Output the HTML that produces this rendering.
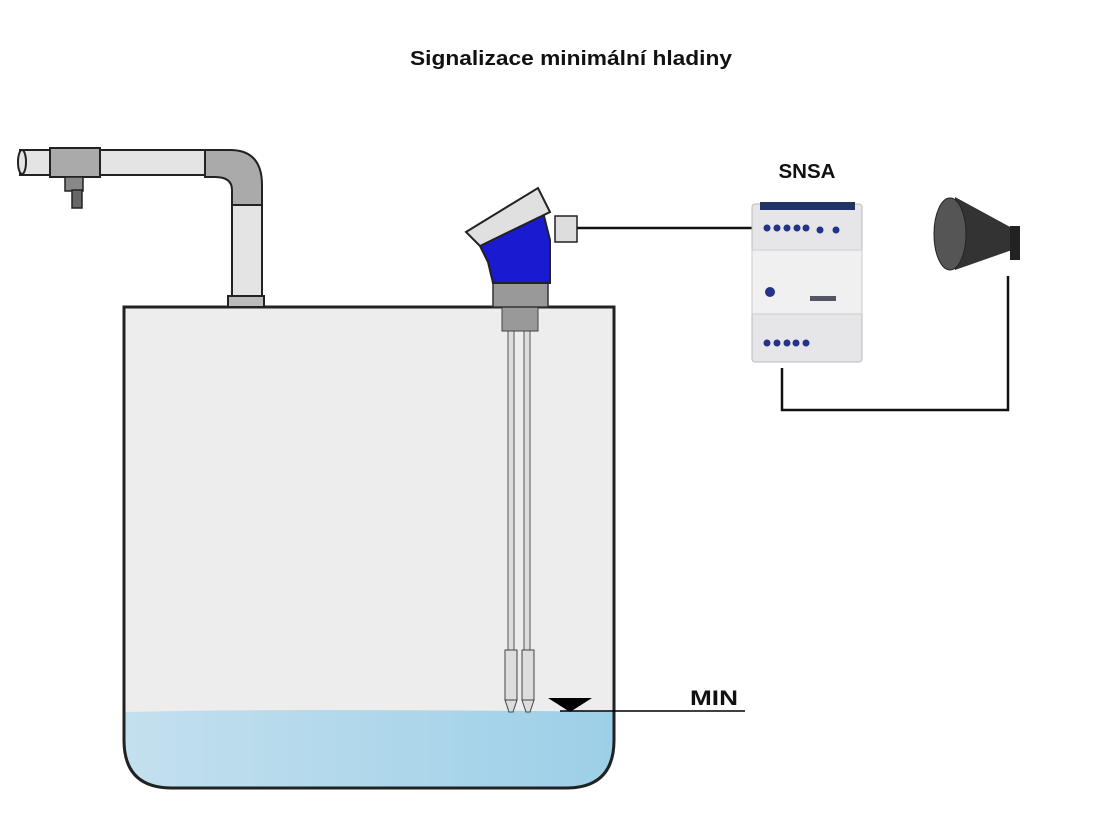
<!DOCTYPE html>
<html><head><meta charset="utf-8"><style>
body{margin:0;background:#fff}
svg{display:block}
text{font-family:"Liberation Sans",sans-serif;font-weight:bold}
</style></head><body>
<svg width="1100" height="825" viewBox="0 0 1100 825" xmlns="http://www.w3.org/2000/svg">
<defs>
<linearGradient id="w" x1="0" x2="1"><stop offset="0" stop-color="#c4e0ee"/><stop offset="1" stop-color="#9ccfe8"/></linearGradient>
<clipPath id="tc"><path d="M124,307 H614 V740 Q614,788 566,788 H172 Q124,788 124,740 Z"/></clipPath>
</defs>
<text x="571" y="65" font-size="20" text-anchor="middle" fill="#111" textLength="322" lengthAdjust="spacingAndGlyphs">Signalizace minimální hladiny</text>
<!-- tank -->
<path d="M124,307 H614 V740 Q614,788 566,788 H172 Q124,788 124,740 Z" fill="#ededed"/>
<g clip-path="url(#tc)"><path d="M120,712 Q300,708 620,712 V800 H120 Z" fill="url(#w)"/></g>
<path d="M124,307 H614 V740 Q614,788 566,788 H172 Q124,788 124,740 Z" fill="none" stroke="#222" stroke-width="3"/>
<!-- pipe -->
<rect x="20" y="150" width="190" height="25" fill="#e4e4e4" stroke="#222" stroke-width="2"/>
<ellipse cx="22" cy="162" rx="4" ry="12" fill="#e4e4e4" stroke="#222" stroke-width="2"/>
<rect x="50" y="148" width="50" height="29" fill="#aaa" stroke="#222" stroke-width="2"/>
<rect x="65" y="177" width="18" height="14" fill="#888" stroke="#222" stroke-width="1.5"/>
<rect x="72" y="190" width="10" height="18" fill="#666" stroke="#222" stroke-width="1.5"/>
<path d="M205,150 H230 Q262,150 262,185 V205 H232 V190 Q232,177 215,177 H205 Z" fill="#aaa" stroke="#222" stroke-width="2"/>
<rect x="232" y="205" width="30" height="92" fill="#e4e4e4" stroke="#222" stroke-width="2"/>
<rect x="228" y="296" width="36" height="11" fill="#bbb" stroke="#222" stroke-width="2"/>
<!-- sensor -->
<rect x="508" y="330" width="6" height="320" fill="#ddd" stroke="#555"/>
<rect x="524" y="330" width="6" height="320" fill="#ddd" stroke="#555"/>
<rect x="505" y="650" width="12" height="50" fill="#ddd" stroke="#444"/>
<rect x="522" y="650" width="12" height="50" fill="#ddd" stroke="#444"/>
<path d="M505,700 L517,700 L513,712 L509,712 Z M522,700 L534,700 L530,712 L526,712 Z" fill="#ddd" stroke="#444"/>
<rect x="502" y="307" width="36" height="24" fill="#999" stroke="#444"/>
<rect x="493" y="282" width="55" height="25" fill="#999" stroke="#333" stroke-width="1.5"/>
<path d="M478,242 L543,212 L550,240 V283 H493 L488,262 Z" fill="#1a1ad0" stroke="#222" stroke-width="2"/>
<path d="M466,232 L538,188 L550,212 L480,246 Z" fill="#e0e0e0" stroke="#222" stroke-width="2"/>
<rect x="555" y="216" width="22" height="26" fill="#ddd" stroke="#222" stroke-width="1.5"/>
<line x1="577" y1="228" x2="752" y2="228" stroke="#111" stroke-width="2.5"/>
<!-- SNSA -->
<text x="807" y="178" font-size="20" text-anchor="middle" fill="#111" textLength="57" lengthAdjust="spacingAndGlyphs">SNSA</text>
<rect x="752" y="204" width="110" height="158" rx="3" fill="#e6e6e8" stroke="#bbb"/>
<rect x="760" y="202" width="95" height="8" fill="#223366"/>
<rect x="752" y="250" width="110" height="64" fill="#f0f0f0" stroke="#ccc"/>
<g fill="#223388"><circle cx="767" cy="228" r="3.5"/><circle cx="777" cy="228" r="3.5"/><circle cx="787" cy="228" r="3.5"/><circle cx="797" cy="228" r="3.5"/><circle cx="806" cy="228" r="3.5"/><circle cx="820" cy="230" r="3.5"/><circle cx="836" cy="230" r="3.5"/>
<circle cx="767" cy="343" r="3.5"/><circle cx="777" cy="343" r="3.5"/><circle cx="787" cy="343" r="3.5"/><circle cx="796" cy="343" r="3.5"/><circle cx="806" cy="343" r="3.5"/><circle cx="770" cy="292" r="5"/></g>
<rect x="810" y="296" width="26" height="5" fill="#556"/>
<path d="M782,368 V410 H1008 V276" fill="none" stroke="#111" stroke-width="2.5"/>
<!-- horn -->
<path d="M955,197 L1012,228 V250 L955,270 Z" fill="#333"/>
<ellipse cx="950" cy="234" rx="16" ry="36" fill="#555" stroke="#222"/>
<rect x="1010" y="226" width="10" height="34" fill="#222"/>
<!-- MIN -->
<path d="M548,698 H592 L570,712 Z" fill="#000"/>
<line x1="560" y1="711" x2="745" y2="711" stroke="#000" stroke-width="1.5"/>
<text x="690" y="705" font-size="21" fill="#111" textLength="48" lengthAdjust="spacingAndGlyphs">MIN</text>
</svg>
</body></html>
